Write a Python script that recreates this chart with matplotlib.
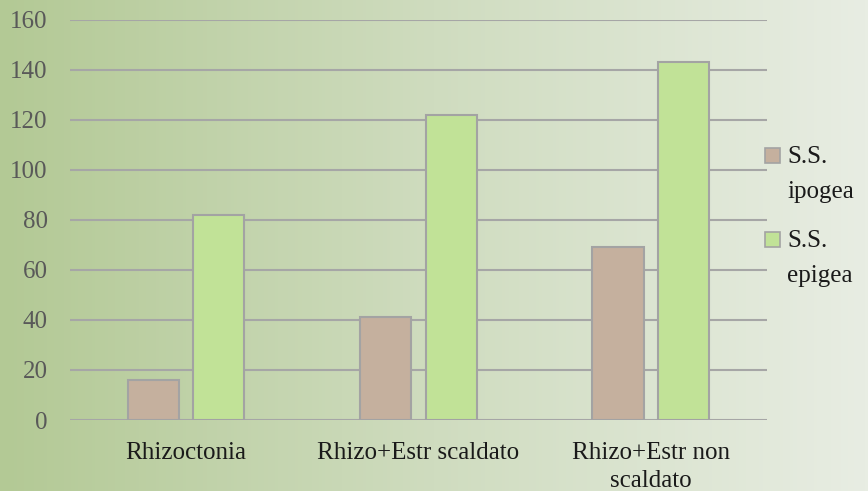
import numpy as np
import matplotlib
matplotlib.use('Agg')
import matplotlib.pyplot as plt
from matplotlib.colors import LinearSegmentedColormap
from matplotlib.patches import Rectangle

categories = ['Rhizoctonia', 'Rhizo+Estr scaldato', 'Rhizo+Estr non\nscaldato']
series_names = ['S.S.\nipogea', 'S.S.\nepigea']
ipogea = [16, 41, 69]
epigea = [82, 122, 143]
yticks = [0, 20, 40, 60, 80, 100, 120, 140, 160]

colors = ['#c5b09e', '#c1e297']
edge = '#a3a3a3'
grid_col = '#a6a6a6'

plt.rcParams['font.family'] = ['Liberation Serif', 'DejaVu Serif']

fig = plt.figure(figsize=(8.68, 4.91), dpi=100)

# background gradient, darker green on the left
bg = fig.add_axes([0, 0, 1, 1], zorder=-10)
cmap = LinearSegmentedColormap.from_list('bg', ['#b3c995', '#cfdcbf', '#e8ede3'])
grad = np.linspace(0, 1, 256).reshape(1, -1)
bg.imshow(grad, aspect='auto', cmap=cmap, extent=[0, 1, 0, 1])
bg.axis('off')

ax = fig.add_axes([0.0806, 0.1446, 0.803, 0.8147])
ax.patch.set_alpha(0)

x = np.arange(len(categories))
w = 0.22
off = 0.141
for i, vals in enumerate([ipogea, epigea]):
    ax.bar(x + (i * 2 - 1) * off, vals, width=w, color=colors[i],
           edgecolor=edge, linewidth=1.5, zorder=3)

ax.set_ylim(0, 160)
ax.set_xlim(-0.5, 2.5)
ax.set_yticks(yticks)
ax.set_xticks(x)
ax.set_xticklabels(categories, fontsize=18, color='#1a1a1a', linespacing=1.35)
ax.tick_params(axis='y', length=0, pad=16, labelsize=18, labelcolor='#595959')
ax.tick_params(axis='x', length=0, pad=16)
ax.yaxis.grid(True, color=grid_col, linewidth=1.5, zorder=0)
ax.set_axisbelow(True)
for s in ax.spines.values():
    s.set_visible(False)

# legend drawn by hand so the square sits on the first text line
for i, name in enumerate(series_names):
    base = 163 + i * 84
    fig.patches.append(Rectangle((765 / 868, 1 - base / 491), 15 / 868, 15 / 491,
                                 transform=fig.transFigure, facecolor=colors[i],
                                 edgecolor=edge, linewidth=1.2))
    for j, line in enumerate(name.split('\n')):
        fig.text(787 / 868, 1 - (base + j * 35) / 491, line, fontsize=18,
                 color='#1a1a1a', va='baseline', ha='left')

fig.savefig('out.png', dpi=100)
